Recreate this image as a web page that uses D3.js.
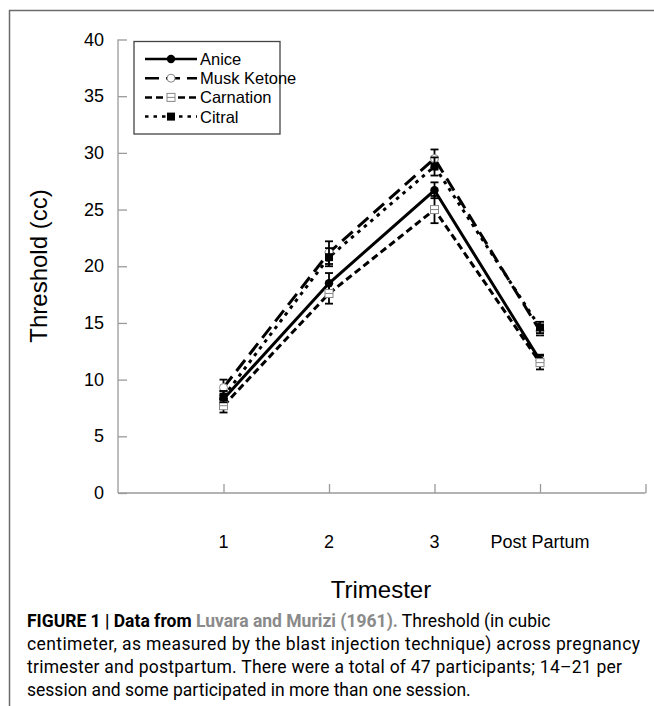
<!DOCTYPE html>
<html>
<head>
<meta charset="utf-8">
<script src="https://cdn.jsdelivr.net/npm/d3@7"></script>
<style>
  body { margin: 0; background: #fff; }
  svg text { font-family: "Liberation Sans", Arial, sans-serif; }
</style>
</head>
<body>
<svg id="chart" width="654" height="706"></svg>
<script>
// data
const trimesters = ['1', '2', '3', 'Post Partum'];
const aniceValues = [8.3, 18.5, 26.7, 11.7];
const aniceErr = [0.7, 0.9, 0.7, 0.5];
const muskValues = [9.3, 21.2, 29.5, 14.3];
const muskErr = [0.7, 1.0, 0.8, 0.4];
const carnationValues = [7.7, 17.6, 25.0, 11.5];
const carnationErr = [0.6, 0.9, 1.2, 0.6];
const citralValues = [8.5, 20.8, 28.8, 14.6];
const citralErr = [0.5, 0.8, 0.8, 0.5];
const yTicks = [0, 5, 10, 15, 20, 25, 30, 35, 40];

const series = [
  { name: 'Anice', values: aniceValues, err: aniceErr, dash: null, marker: 'dot' },
  { name: 'Musk Ketone', values: muskValues, err: muskErr, dash: '14,7', marker: 'ring' },
  { name: 'Carnation', values: carnationValues, err: carnationErr, dash: '7,4', marker: 'box' },
  { name: 'Citral', values: citralValues, err: citralErr, dash: '3.5,5', marker: 'square' }
];

const svg = d3.select('#chart');

// frame around figure
svg.append('path')
  .attr('d', 'M9.5,706 V10.5 H654')
  .attr('fill', 'none')
  .attr('stroke', '#6b6b6b')
  .attr('stroke-width', 1.5);

const x = d3.scaleLinear().domain([0, 5]).range([118, 645.5]);
const y = d3.scaleLinear().domain([0, 40]).range([493, 39.5]);

// axes (light gray, ticks pointing inward)
const yAxis = svg.append('g')
  .attr('transform', 'translate(118,0)')
  .call(d3.axisRight(y).tickValues(yTicks).tickSize(9).tickFormat(''));
const xAxis = svg.append('g')
  .attr('transform', 'translate(0,493)')
  .call(d3.axisTop(x).tickValues([1, 2, 3, 4, 5]).tickSize(9).tickFormat(''));
[yAxis, xAxis].forEach(g => {
  g.select('.domain').attr('stroke', '#9a9a9a').attr('stroke-width', 1.3);
  g.selectAll('.tick line').attr('stroke', '#9a9a9a').attr('stroke-width', 1.3);
});
yAxis.select('.domain').attr('d', 'M0,493V39.5');
xAxis.select('.domain').attr('d', 'M118,0H645.5');

svg.append('g').selectAll('text')
  .data(yTicks)
  .join('text')
  .attr('x', 104)
  .attr('y', d => y(d) + 6)
  .attr('text-anchor', 'end')
  .attr('font-size', 18)
  .text(d => d);

svg.append('g').selectAll('text')
  .data(trimesters)
  .join('text')
  .attr('x', (d, i) => x(i + 1))
  .attr('y', 548)
  .attr('text-anchor', 'middle')
  .attr('font-size', 18)
  .text(d => d);

svg.append('text')
  .attr('x', 381)
  .attr('y', 598)
  .attr('text-anchor', 'middle')
  .attr('font-size', 24)
  .text('Trimester');

svg.append('text')
  .attr('transform', 'translate(47,266) rotate(-90)')
  .attr('text-anchor', 'middle')
  .attr('font-size', 24)
  .text('Threshold (cc)');

function drawMarker(g, type, cx, cy) {
  if (type === 'dot') {
    g.append('circle').attr('cx', cx).attr('cy', cy).attr('r', 4.2).attr('fill', '#000');
  } else if (type === 'ring') {
    g.append('circle').attr('cx', cx).attr('cy', cy).attr('r', 4)
      .attr('fill', '#fff').attr('stroke', '#888').attr('stroke-width', 1);
  } else if (type === 'box') {
    g.append('rect').attr('x', cx - 4).attr('y', cy - 4).attr('width', 8).attr('height', 8)
      .attr('fill', '#fff').attr('stroke', '#888').attr('stroke-width', 1);
    g.append('line').attr('x1', cx - 4).attr('x2', cx + 4).attr('y1', cy).attr('y2', cy)
      .attr('stroke', '#888').attr('stroke-width', 1);
  } else {
    g.append('rect').attr('x', cx - 4).attr('y', cy - 4).attr('width', 8).attr('height', 8)
      .attr('fill', '#000');
  }
}

const line = d3.line()
  .x((d, i) => x(i + 1))
  .y(d => y(d));

const plot = svg.append('g');
series.forEach(s => {
  plot.append('path')
    .datum(s.values)
    .attr('d', line)
    .attr('fill', 'none')
    .attr('stroke', '#000')
    .attr('stroke-width', 3)
    .attr('stroke-dasharray', s.dash);
});

series.forEach(s => {
  const g = plot.append('g');
  s.values.forEach((v, i) => {
    const cx = x(i + 1);
    const lo = y(v - s.err[i]);
    const hi = y(v + s.err[i]);
    g.append('line').attr('x1', cx).attr('x2', cx).attr('y1', lo).attr('y2', hi)
      .attr('stroke', '#000').attr('stroke-width', 1.8);
    [lo, hi].forEach(yy => {
      g.append('line').attr('x1', cx - 4).attr('x2', cx + 4).attr('y1', yy).attr('y2', yy)
        .attr('stroke', '#000').attr('stroke-width', 1.8);
    });
    drawMarker(g, s.marker, cx, y(v));
  });
});

// legend
const legend = svg.append('g');
legend.append('rect')
  .attr('x', 134).attr('y', 41.5)
  .attr('width', 146).attr('height', 92.5)
  .attr('fill', '#fff')
  .attr('stroke', '#444')
  .attr('stroke-width', 1.3);
series.forEach((s, i) => {
  const ly = 59 + i * 19.2;
  legend.append('line')
    .attr('x1', 145).attr('x2', 197).attr('y1', ly).attr('y2', ly)
    .attr('stroke', '#000').attr('stroke-width', 2.5)
    .attr('stroke-dasharray', s.dash);
  drawMarker(legend, s.marker, 171, ly);
  legend.append('text')
    .attr('x', 200).attr('y', ly + 6)
    .attr('font-size', 16.5)
    .text(s.name);
});

// caption
const captionLines = [
  [
    { t: 'FIGURE 1 | Data from ', w: 'bold', c: '#000' },
    { t: 'Luvara and Murizi (1961).', w: 'bold', c: '#8a8a8a' },
    { t: ' Threshold (in cubic', w: 'normal', c: '#000' }
  ],
  [{ t: 'centimeter, as measured by the blast injection technique) across pregnancy', w: 'normal', c: '#000' }],
  [{ t: 'trimester and postpartum. There were a total of 47 participants; 14\u201321 per', w: 'normal', c: '#000' }],
  [{ t: 'session and some participated in more than one session.', w: 'normal', c: '#000' }]
];
const captionWidths = [null, 613, 595, null];
const caption = svg.append('g');
captionLines.forEach((parts, i) => {
  const t = caption.append('text')
    .attr('x', 27)
    .attr('y', 627 + i * 23)
    .attr('font-size', 17.5)
    .style('font-family', 'Roboto, Arial, sans-serif');
  if (captionWidths[i]) {
    t.attr('textLength', captionWidths[i]).attr('lengthAdjust', 'spacing');
  }
  parts.forEach(p => {
    t.append('tspan')
      .attr('font-weight', p.w)
      .attr('fill', p.c)
      .text(p.t);
  });
});
</script>
</body>
</html>
